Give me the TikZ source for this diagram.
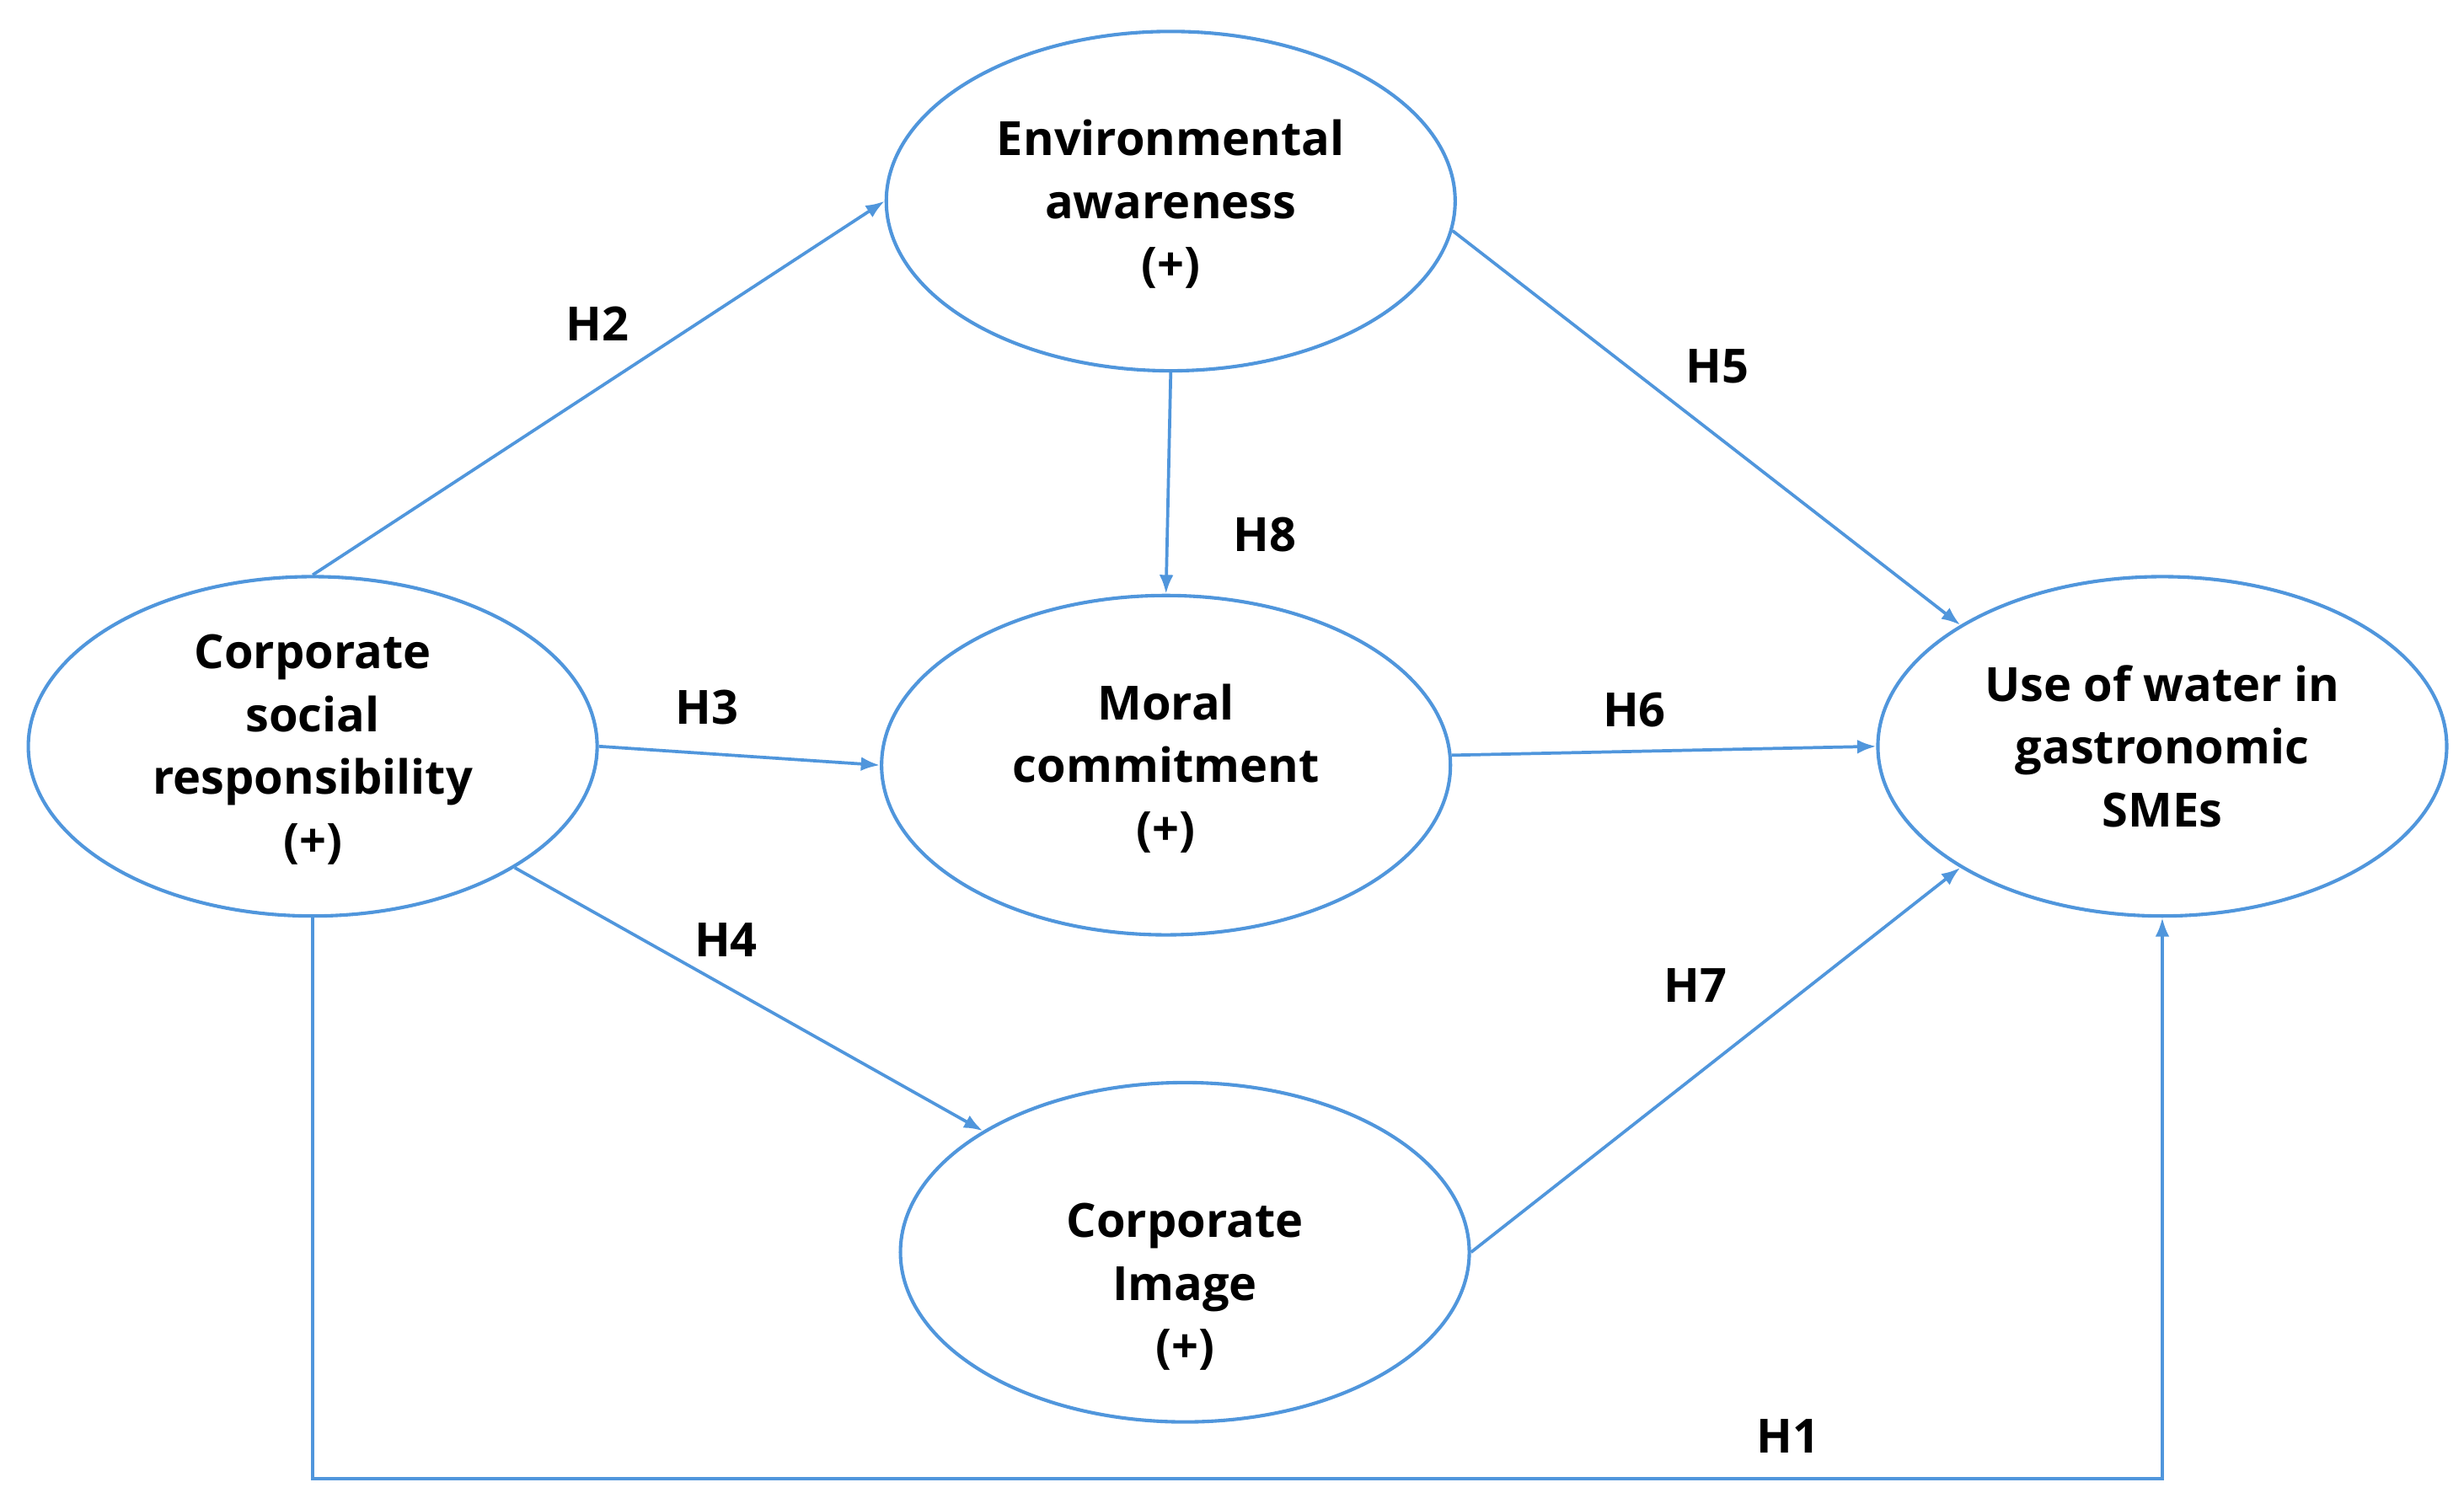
\documentclass[tikz,border=0pt]{standalone}
\usepackage{fontspec}
\setmainfont{Open Sans}
\usetikzlibrary{shapes.geometric,arrows.meta}
\definecolor{lineblue}{RGB}{80,150,220}

\begin{document}
\begin{tikzpicture}[x=0.5pt, y=-0.5pt,
        construct/.style={draw=lineblue, line width=1.1pt, ellipse, minimum width=181pt, minimum height=108pt, inner sep=0pt},
        words/.style={align=center, font=\bfseries\fontsize{15}{20}\selectfont},
        link/.style={draw=lineblue, line width=1pt, -{Latex[length=6pt,width=4.5pt]}}
    ]

        \useasboundingbox (0,0) rectangle (1568,960);

        % constructs
        \node[construct] (ea)  at (745,128) {};
        \node[construct] (csr) at (199,475) {};
        \node[construct] (mc)  at (742,487) {};
        \node[construct] (uw)  at (1376,475) {};
        \node[construct] (ci)  at (754,797) {};

        \node[words] (eatext)  at ([yshift=-1pt]ea.center)  {Environmental\\awareness\\(+)};
        \node[words] (csrtext) at ([yshift=-1pt]csr.center) {Corporate\\social\\responsibility\\(+)};
        \node[words] (mctext)  at ([yshift=-1pt]mc.center)  {Moral\\commitment\\(+)};
        \node[words] (uwtext)  at (uw)  {Use of water in\\gastronomic\\SMEs};
        \node[words] (citext)  at ([yshift=-11pt]ci.center) {Corporate\\Image\\(+)};

        % hypotheses
        \draw[link] (csr.north) -- (ea.west);
        \draw[link] (ea.-6) -- (uw.149);
        \draw[link] (ea.south) -- (mc.north);
        \draw[link] (csr.east) -- (mc.west);
        \draw[link] (mc.2) -- (uw.west);
        \draw[link] (csr.-31) -- (ci.149);
        \draw[link] (ci.east) -- (uw.211);
        \coordinate (h1base) at (0,941);
        \draw[link] (csr.south) |- (uw.south |- h1base) -- (uw.south);

        \path[every node/.style=words]
            (1138,914) node (h1) {H1}
            (380,206)  node (h2) {H2}
            (450,450)  node (h3) {H3}
            (462,598)  node (h4) {H4}
            (1093,233) node (h5) {H5}
            (1040,452) node (h6) {H6}
            (1079,627) node (h7) {H7}
            (805,340)  node (h8) {H8}
        ;

    \end{tikzpicture}
\end{document}
